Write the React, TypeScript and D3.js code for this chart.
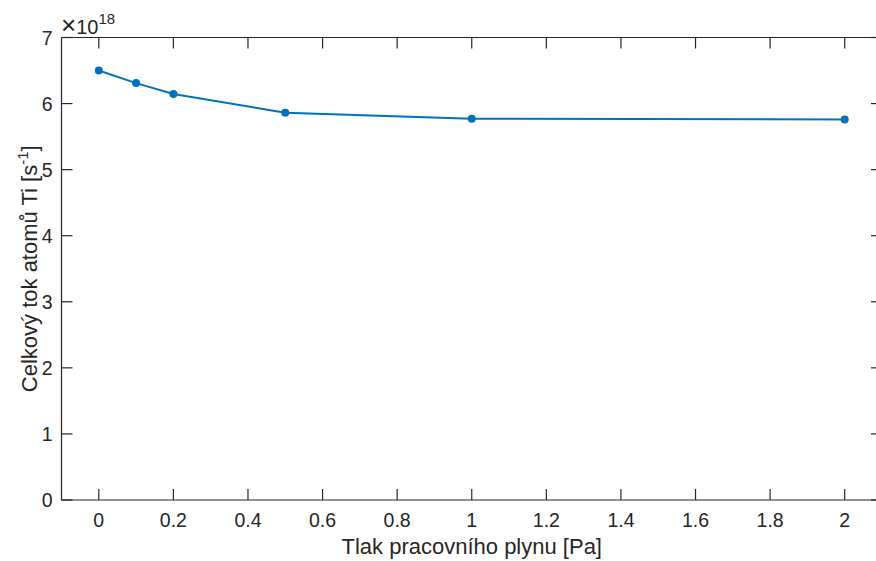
import React from "react";
import * as d3 from "d3";

const pressure = [0, 0.1, 0.2, 0.5, 1, 2];
const flux = [6.5, 6.31, 6.145, 5.862, 5.77, 5.76];
const xTicks = [0, 0.2, 0.4, 0.6, 0.8, 1, 1.2, 1.4, 1.6, 1.8, 2];
const yTicks = [0, 1, 2, 3, 4, 5, 6, 7];

const W = 876;
const H = 561;
const left = 61.5;
const right = 882;
const top = 37.5;
const bottom = 500;

export default function App() {
  const x = d3.scaleLinear().domain([-0.1, 2.1]).range([left, right]);
  const y = d3.scaleLinear().domain([0, 7]).range([bottom, top]);
  const line = d3
    .line<number>()
    .x((_, i) => x(pressure[i]))
    .y((d) => y(d));
  const axisColor = "#262626";
  const tl = 11;
  const font = "'Liberation Sans', Arial, Helvetica, sans-serif";
  return (
    <svg
      width={W}
      height={H}
      style={{ position: "absolute", left: 0, top: 0, background: "#fff" }}
      fontFamily={font}
    >
      <rect x={0} y={0} width={W} height={H} fill="#fff" />
      <g stroke={axisColor} strokeWidth={1.2} fill="none">
        <line x1={left} y1={bottom} x2={right} y2={bottom} />
        <line x1={left} y1={top} x2={right} y2={top} />
        <line x1={left} y1={top} x2={left} y2={bottom} />
        <line x1={right} y1={top} x2={right} y2={bottom} />
        {xTicks.map((t) => (
          <g key={"xt" + t}>
            <line x1={x(t)} x2={x(t)} y1={bottom} y2={bottom - tl} />
            <line x1={x(t)} x2={x(t)} y1={top} y2={top + tl} />
          </g>
        ))}
        {yTicks.map((t) => (
          <g key={"yt" + t}>
            <line x1={left} x2={left + tl} y1={y(t)} y2={y(t)} />
            <line x1={right} x2={right - tl} y1={y(t)} y2={y(t)} />
          </g>
        ))}
      </g>
      <g fill={axisColor} fontSize={19.5}>
        {xTicks.map((t) => (
          <text key={"xl" + t} x={x(t)} y={527} textAnchor="middle">
            {String(t)}
          </text>
        ))}
        {yTicks.map((t) => (
          <text key={"yl" + t} x={52.5} y={y(t) + 7} textAnchor="end">
            {String(t)}
          </text>
        ))}
      </g>
      <text x={61} y={34} fill={axisColor} fontSize={20}>
        <tspan fontSize={26}>×</tspan>
        <tspan>10</tspan>
        <tspan dy={-10} fontSize={15}>
          18
        </tspan>
      </text>
      <text
        x={(left + right) / 2}
        y={554}
        textAnchor="middle"
        fill={axisColor}
        fontSize={22}
      >
        Tlak pracovního plynu [Pa]
      </text>
      <text
        transform={`translate(37,${(top + bottom) / 2}) rotate(-90)`}
        textAnchor="middle"
        fill={axisColor}
        fontSize={22}
      >
        Celkový tok atomů Ti [s
        <tspan dy={-9} fontSize={15}>
          -1
        </tspan>
        <tspan dy={9}>]</tspan>
      </text>
      <path d={line(flux) || ""} fill="none" stroke="#0072BD" strokeWidth={2} />
      {flux.map((v, i) => (
        <circle key={"p" + i} cx={x(pressure[i])} cy={y(v)} r={4} fill="#0072BD" />
      ))}
    </svg>
  );
}
